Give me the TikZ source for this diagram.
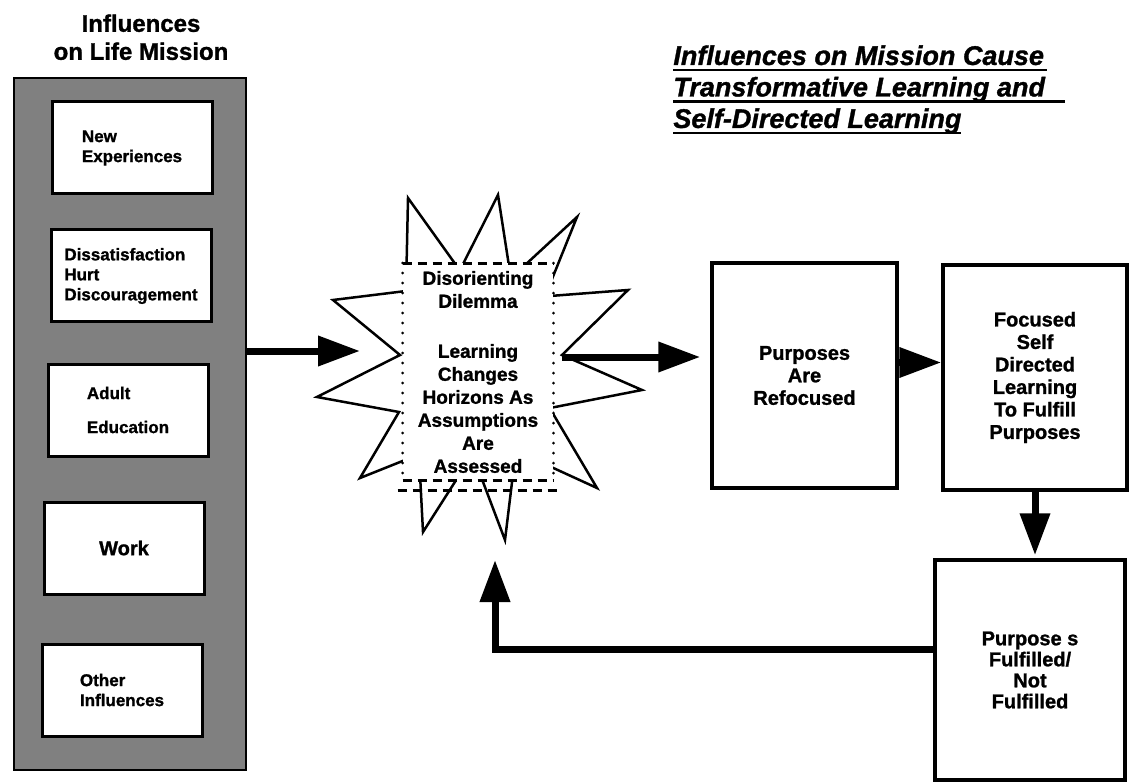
\documentclass[tikz,border=0pt]{standalone}
\usepackage{fontspec}
\setmainfont{Liberation Sans}[BoldFeatures={FakeBold=1.2},BoldItalicFeatures={FakeBold=1.2}]
\usepackage{tikz}
\usetikzlibrary{arrows.meta}
\usetikzlibrary{positioning}

% underlined title line, optional extra length of the rule
\newcommand{\ttlline}[2][0pt]{\setbox0=\hbox{#2}\rlap{\rule[-6.5pt]{\dimexpr\wd0+#1\relax}{2.5pt}}\box0}

\begin{document}
\begin{tikzpicture}[x=1pt,y=-1pt,thick]
\tikzstyle{infobox} = [rectangle, draw, line width=3pt, fill=white, minimum width=160, minimum height=92,
align=left, font=\fontsize{17}{20}\selectfont\bfseries]
\tikzstyle{stepbox} = [rectangle, draw, line width=3.5pt, fill=white, inner sep=0, align=center,
font=\fontsize{20}{22.5}\selectfont\bfseries]
\tikzstyle{bigarrow} = [draw, line width=7pt, -{Triangle[length=42pt,width=29pt]}]
\useasboundingbox (0,0) rectangle (1129,783);

% left column
\node [align=center, inner sep=0, anchor=north, font=\fontsize{24}{28}\selectfont\bfseries] (coltitle) at (141,14) {Influences\\on Life Mission};
\node [draw, line width=2pt, fill=black!50, minimum width=232, minimum height=692] (infocol) at (130,424) {};
\node [infobox] (newexp) at (132,148) {New\\Experiences};
\node [infobox] (hurt) at (131,276) {Dissatisfaction\\Hurt\\Discouragement};
\node [infobox] (adulted) at (128,410) {Adult\\[14pt]Education};
\node [infobox, align=center, font=\fontsize{20}{22}\selectfont\bfseries] (work) at (124,548) {Work};
\node [infobox] (otherinf) at (122,690) {Other\\Influences};

% title
\node [anchor=north west, inner sep=0, align=left, font=\fontsize{27}{31.5}\selectfont\bfseries\itshape] (maintitle) at (673,45)
{\ttlline[3pt]{Influences on Mission Cause}\\\ttlline[20pt]{Transformative Learning and}\\\ttlline{Self-Directed Learning}};

% star
\draw [line width=2.5pt, line join=miter]
(406,291) -- (408,198) -- (456,265) -- (462,266) -- (498,195) -- (509,266) -- (524,266)
-- (577,217) -- (550,284) -- (550,296) -- (628,290) -- (562,355) -- (642,390)
-- (550,408) -- (552,412) -- (597,488) -- (549,466) -- (513,474) -- (505,540)
-- (480,474) -- (460,474) -- (423,532) -- (420,474) -- (405,460) -- (360,478)
-- (399,412) -- (317,397) -- (400,355) -- (333,300) -- cycle;
\node [fill=white, minimum width=150, minimum height=217, inner sep=0, align=center,
font=\fontsize{19}{23}\selectfont\bfseries] (dilemma) at (478,372)
{Disorienting\\Dilemma\\[27pt]Learning\\Changes\\Horizons As\\Assumptions\\Are\\Assessed};
\draw [line width=3pt, dash pattern=on 9pt off 6pt] (dilemma.north west) -- (dilemma.north east);
\draw [line width=3pt, dash pattern=on 9pt off 6pt] (dilemma.south west) -- (dilemma.south east);
\draw [line width=3pt, dash pattern=on 9pt off 6pt] ([shift={(-5,10)}]dilemma.south west) -- ([shift={(4,10)}]dilemma.south east);
\draw [line width=3pt, line cap=round, dash pattern=on 0pt off 10pt] (dilemma.north west) -- (dilemma.south west);
\draw [line width=3pt, line cap=round, dash pattern=on 0pt off 10pt] (dilemma.north east) -- (dilemma.south east);

% steps
\node [stepbox, minimum width=185, minimum height=225] (purposes) at (804.5,375.5) {Purposes\\Are\\Refocused};
\node [stepbox, minimum width=184, minimum height=225] (focused) at (1035,377.5) {Focused\\Self\\Directed\\Learning\\To Fulfill\\Purposes};
\node [stepbox, minimum width=190, minimum height=220, font=\fontsize{20}{21}\selectfont\bfseries] (fulfilled) at (1030,670) {Purpose s\\Fulfilled/\\Not\\Fulfilled};

% arrows
\coordinate (starin) at (360,351);
\coordinate (starout) at (562,357);
\coordinate (pf) at ([yshift=13pt]purposes.east);
\coordinate (fbstart) at ([yshift=21pt]fulfilled.west);
\coordinate (fbtip) at (495,560);
\draw [bigarrow] (infocol.east |- starin) -- (starin);
\draw [bigarrow, shorten >=10pt] (starout) -- (starout -| purposes.west);
\draw [bigarrow] (pf) -- (pf -| focused.west);
\draw [bigarrow, shorten >=3pt] (focused.south) -- (focused.south |- fulfilled.north);
\draw [bigarrow] (fbstart) -| (fbtip);
\end{tikzpicture}
\end{document}
